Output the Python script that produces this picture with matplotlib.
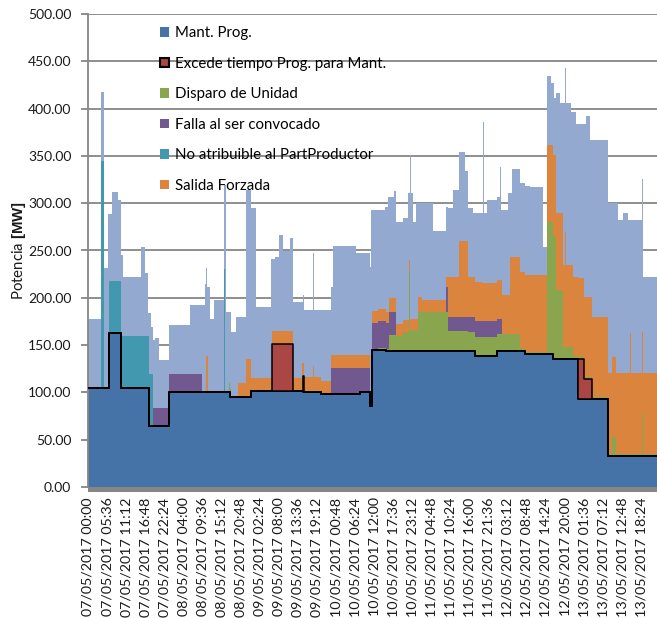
import numpy as np
import matplotlib
matplotlib.use("Agg")
import matplotlib.pyplot as plt
from matplotlib.patches import Rectangle, Patch

plt.rcParams['font.family'] = ['Lato', 'DejaVu Sans']
plt.rcParams['mathtext.fontset'] = 'custom'
plt.rcParams['mathtext.rm'] = 'Lato'
plt.rcParams['mathtext.bf'] = 'Liberation Sans:bold'

# ---------------- data (hours since 07/05/2017 00:00 -> value from that hour on) -------------
series_names = ["Mant. Prog.", "Excede tiempo Prog. para Mant.", "Disparo de Unidad",
                "Falla al ser convocado", "No atribuible al PartProductor", "Salida Forzada"]

mant_t = [0, 6.1, 9.75, 17.9, 23.9, 41.8, 47.9, 63.0, 68.5, 79.7, 82.8, 83.3, 87.6,
          113.5, 119.9, 128.4, 136.5, 143.8, 152.7]
mant_v = [105, 163, 105, 65, 100, 95, 101, 100, 98, 100, 86, 145, 143.5,
          138, 144, 140.5, 135, 93, 33]

excede_t = [0, 54.1, 60.1, 63.0, 63.4, 143.8, 145.5, 147.8]
excede_v = [0, 50, 0, 17, 0, 42, 21, 0]

disparo_t = [0, 41.5, 42.0, 85.0, 88.3, 90.5, 92.5, 94.2, 94.6, 96.9, 105.7, 111.5, 113.5,
             119.9, 126.7, 128.4, 134.7, 136.5, 137.5, 139.4, 142.4, 143.8, 147.8, 152.7,
             153.7, 155.1, 162.7, 163.0]
disparo_v = [0, 10, 0, 2, 17, 16, 20.5, 86, 22, 42, 21.5, 20.5, 21,
             17.7, 3, 2, 139.5, 130, 73, 13, 3, 2, 2.5, 1.5,
             19.5, 1.5, 45, 1.5]

falla_t = [0, 19.2, 23.9, 33.5, 71.4, 79.7, 82.8, 83.3, 87.6, 88.3, 90.5, 105.0, 105.7,
           111.5, 113.5, 119.9, 121.4]
falla_v = [0, 19, 19.5, 0, 27.5, 25.5, 0, 28, 27.5, 24.5, 0, 26, 15,
           16, 16.5, 16.3, 0]

noatrib_t = [0, 3.9, 4.8, 6.1, 17.9, 19.0, 40.0, 40.3]
noatrib_v = [0, 240, 0, 55, 54.4, 0, 130, 0]

forzada_t = [0, 0.4, 34.7, 35.3, 44.0, 46.5, 47.7, 54.1, 60.1, 62.7, 63.0, 63.4, 65.9, 66.3,
             68.5, 71.4, 82.8, 83.3, 87.6, 88.3, 90.5, 94.2, 94.6, 96.9, 97.9, 105.0, 105.7,
             108.9, 111.5, 113.5, 115.5, 119.9, 123.8, 126.7, 128.4, 134.7, 136.5, 137.5,
             139.4, 139.9, 140.4, 142.4, 145.5, 147.8, 152.7, 153.7, 155.1, 159.0, 159.3]
forzada_v = [3, 0, 38, 0, 14.5, 40, 14.5, 14, 14.5, 30, 14, 16, 28, 16,
             14, 14, 0, 13, 12.5, 14.5, 13, 10.5, 12.5, 15, 12.5, 10, 41.5,
             80.5, 41.5, 41.5, 40, 41, 81.7, 80.6, 81.5, 81.5, 86, 82,
             87, 122, 87, 84.3, 85, 84, 85.5, 84.5, 85.5, 128, 85.5]

# light blue background series (absolute values)
fondo_t = [0, 3.8, 4.8, 5.8, 6.9, 8.7, 9.75, 10.2, 15.6, 16.6, 17.5, 18.5, 19.2, 19.8, 20.7,
           23.9, 29.8, 34.2, 34.7, 35.0, 35.7, 37.1, 40.0, 40.4, 42.0, 43.5, 46.5, 47.9,
           49.4, 53.8, 54.9, 56.2, 57.1, 59.3, 60.1, 63.1, 63.4, 65.9, 66.3, 71.4, 71.9,
           78.8, 82.7, 83.2, 87.1, 88.0, 89.9, 90.3, 90.5, 92.5, 93.9, 94.4, 94.7, 95.4,
           96.4, 101.3, 105.0, 105.7, 107.1, 108.9, 110.6, 111.5, 113.0, 116.0, 116.3,
           117.0, 119.9, 121.0, 121.3, 123.3, 124.3, 126.7, 128.2, 129.7, 133.6, 134.6,
           136.0, 136.7, 137.5, 138.5, 140.0, 140.3, 141.9, 143.2, 146.3, 147.3, 152.7,
           155.6, 157.1, 158.5, 162.6, 162.9]
fondo_v = [178, 418, 231, 289, 312, 303, 245, 221.5, 254, 226, 183.6, 169, 155, 157, 134,
           171, 192, 215, 231, 211.7, 178, 197.7, 319, 185, 164, 180, 314, 294.6,
           190.6, 241, 243.5, 266.4, 250, 263, 196, 203, 187, 247, 187, 211.7, 254.8,
           247, 233, 293, 296.3, 307, 313, 307, 280.5, 284, 310.5, 351, 310.5, 280,
           300, 271, 296, 294.6, 314, 353.6, 334, 294.6, 289.3, 386, 289.3,
           303.4, 306.9, 338, 293, 310.5, 336, 321, 318, 316.8, 254, 434.4,
           426.8, 410.8, 416, 405.5, 442.5, 405.5, 396.7, 383.7, 392, 366.8, 299.9,
           282.2, 289.3, 282, 326, 222]

tick_labels = ["07/05/2017 00:00", "07/05/2017 05:36", "07/05/2017 11:12", "07/05/2017 16:48",
               "07/05/2017 22:24", "08/05/2017 04:00", "08/05/2017 09:36", "08/05/2017 15:12",
               "08/05/2017 20:48", "09/05/2017 02:24", "09/05/2017 08:00", "09/05/2017 13:36",
               "09/05/2017 19:12", "10/05/2017 00:48", "10/05/2017 06:24", "10/05/2017 12:00",
               "10/05/2017 17:36", "10/05/2017 23:12", "11/05/2017 04:48", "11/05/2017 10:24",
               "11/05/2017 16:00", "11/05/2017 21:36", "12/05/2017 03:12", "12/05/2017 08:48",
               "12/05/2017 14:24", "12/05/2017 20:00", "13/05/2017 01:36", "13/05/2017 07:12",
               "13/05/2017 12:48", "13/05/2017 18:24"]
tick_hours = [5.6 * i for i in range(len(tick_labels))]
y_ticks = [0, 50, 100, 150, 200, 250, 300, 350, 400, 450, 500]

colors = ['#4572A7', '#AA4643', '#89A54E', '#71588F', '#4198AF', '#DB843D']
fondo_color = '#93A9CF'
grid_color = '#868686'
T_END = 168.0

# ---------------- build step grid ----------------
all_t = [mant_t, excede_t, disparo_t, falla_t, noatrib_t, forzada_t, fondo_t]
grid = np.unique(np.concatenate([np.asarray(t, float) for t in all_t] + [np.array([T_END])]))


def on_grid(t, v):
    idx = np.searchsorted(np.asarray(t, float), grid, side='right') - 1
    return np.asarray(v, float)[idx]


stack = [on_grid(mant_t, mant_v), on_grid(excede_t, excede_v), on_grid(disparo_t, disparo_v),
         on_grid(falla_t, falla_v), on_grid(noatrib_t, noatrib_v), on_grid(forzada_t, forzada_v)]
fondo = on_grid(fondo_t, fondo_v)

W, H = 657, 618
fig = plt.figure(figsize=(W / 100, H / 100), dpi=100)
ax = fig.add_axes([88 / W, 131 / H, (W - 88) / W, 473 / H])

ax.fill_between(grid, 0, fondo, step='post', color=fondo_color, lw=0, zorder=1)

base = np.zeros_like(grid)
tops = []
for i, (vals, c) in enumerate(zip(stack, colors)):
    top = base + vals
    if i != 1:
        ax.fill_between(grid, base, top, step='post', color=c, lw=0, zorder=2)
    else:
        red_base, red_top = base.copy(), top.copy()
    tops.append(top)
    base = top

# Mant. Prog. outline and Excede block with black edge
ax.step(grid, tops[0], where='post', color='black', lw=1.1, zorder=4)
ax.fill_between(grid, red_base, red_top, step='post', facecolor=colors[1],
                edgecolor='black', lw=1.1, zorder=5)

ax.set_xlim(0, 167.0)
ax.set_ylim(0, 500)
ax.set_yticks(y_ticks)
ax.set_yticklabels([f"{v:.2f}" for v in y_ticks])
ax.set_xticks(tick_hours)
ax.set_xticklabels(tick_labels, rotation=90, va='top', ha='center')

ax.yaxis.grid(True, color=grid_color, lw=1.3)
ax.set_axisbelow(True)
for s in ['top', 'right', 'bottom']:
    ax.spines[s].set_visible(False)
ax.spines['left'].set_color(grid_color)
ax.spines['left'].set_linewidth(1.3)
ax.tick_params(axis='y', length=5, width=1.3, color=grid_color, labelsize=10, pad=7,
               labelcolor='#1a1a1a')
ax.tick_params(axis='x', length=0, labelsize=10.3, pad=7.5, labelcolor='#1a1a1a')
ax.add_patch(Rectangle((0, -5 / 473), 1, 5 / 473, transform=ax.transAxes,
                       color=grid_color, clip_on=False, zorder=3, lw=0))

ax.set_ylabel(r"Potencia $\mathbf{[MW]}$", fontsize=10.8, color='#1a1a1a')
ax.yaxis.set_label_coords(-0.106, 0.5)

handles = []
for i, c in enumerate(colors):
    if i == 1:
        handles.append(Patch(facecolor=c, edgecolor='black', lw=1.5))
    else:
        handles.append(Patch(facecolor=c, edgecolor=c, lw=0))
ax.legend(handles, series_names, loc='upper left', bbox_to_anchor=(0.1265, 0.974),
          frameon=False, fontsize=10.8, handlelength=0.62, handleheight=0.62,
          handletextpad=0.4, labelspacing=1.1, borderaxespad=0, borderpad=0)

fig.savefig('out.png', dpi=100)
